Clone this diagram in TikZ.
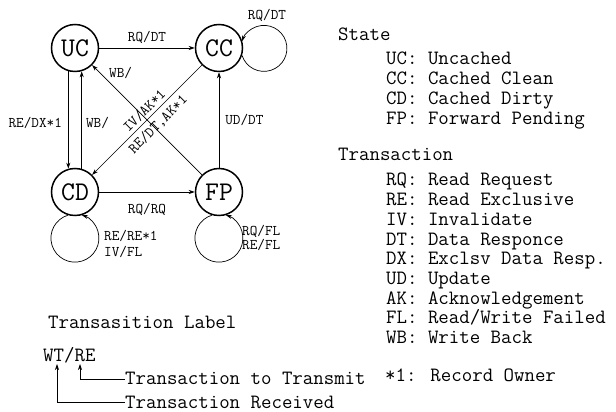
\documentclass[tikz,border=0pt]{standalone}
\usepackage{fontspec}
\usetikzlibrary{arrows.meta}

\tikzset{
  state/.style={draw, circle, line width=1.5pt, minimum size=47pt, inner sep=0pt,
    font=\ttfamily\fontsize{27}{27}\selectfont},
  trans/.style={line width=0.7pt, ->},
  lbl/.style={font=\ttfamily\fontsize{14.8}{14.8}\selectfont, inner sep=1pt},
  legend/.style={font=\ttfamily\fontsize{20.3}{20.3}\selectfont, inner sep=0pt, anchor=base west},
}

\begin{document}
\begin{tikzpicture}[x=1pt, y=1pt, >={Stealth[length=6pt,width=4pt]}]
\useasboundingbox (0,0) rectangle (616,412);

% states
\node[state] (UC) at ( 75,364) {UC};
\node[state] (CC) at (219,364) {CC};
\node[state] (CD) at ( 75,220) {CD};
\node[state] (FP) at (219,220) {FP};

% transitions
\draw[trans] (UC) -- node[lbl, above=3pt] (lUCCC) {RQ/DT} (CC);
\draw[trans] (UC.-106) -- node[lbl, left=5pt, pos=0.53] (lUCCD) {RE/DX*1} (CD.106);
\draw[trans] (CD.74) -- node[lbl, right=3pt, pos=0.47] (lCDUC) {WB/} (UC.-74);
\draw[trans] (FP) -- node[lbl, pos=0.74, above=14pt] (lFPUC) {WB/} (UC);
\draw[trans, <-] (CD) -- node[lbl, sloped, pos=0.53, above=1.5pt] (lCCa) {IV/AK*1}
                         node[lbl, sloped, pos=0.53, below=3.5pt] (lCCb) {RE/DT,AK*1} (CC);
\draw[trans] (FP) -- node[lbl, right=5pt] (lFPCC) {UD/DT} (CC);
\draw[trans] (CD) -- node[lbl, below=10pt] (lCDFP) {RQ/RQ} (FP);

% self loops
\draw[trans] (CC.-18) arc[start angle=198, end angle=522, radius=23];
\node[lbl] (lCC) at (267,397) {RQ/DT};
\draw[trans] (CD.-107) arc[start angle=107, end angle=433, radius=24];
\node[lbl, anchor=west] (lCDa) at (103,176) {RE/RE*1};
\node[lbl, anchor=west] (lCDb) at (103,160) {IV/FL};
\draw[trans] (FP.-107) arc[start angle=107, end angle=433, radius=24];
\node[lbl, anchor=west] (lFPa) at (241,181) {RQ/FL};
\node[lbl, anchor=west] (lFPb) at (241,167) {RE/FL};

% legend
\node[legend] (hState) at (338,371) {State};
\foreach \txt [count=\i] in {UC: Uncached, CC: Cached Clean, CD: Cached Dirty,
                             FP: Forward Pending}
  \node[legend] (st\i) at (386,{366.7-19.7*\i}) {\txt};

\node[legend] (hTrans) at (338,251) {Transaction};
\foreach \txt [count=\i] in {RQ: Read Request, RE: Read Exclusive, IV: Invalidate,
                             DT: Data Responce, DX: Exclsv Data Resp., UD: Update,
                             AK: Acknowledgement, FL: Read/Write Failed, WB: Write Back}
  \node[legend] (tr\i) at (386,{245.7-19.7*\i}) {\txt};
\node[legend] (own) at (385,30) {*1: Record Owner};

% transition label
\node[legend] (tlHead) at (48,83) {Transasition Label};
\node[legend] (tlEx) at (43,50) {WT/RE};
\coordinate (wtPt) at (57,48);
\coordinate (rePt) at (80,48);
\node[legend, inner sep=0.5pt] (tlTx) at (124.5,27) {Transaction to Transmit};
\node[legend, inner sep=0.5pt] (tlRx) at (124.5,3.5) {Transaction Received};
\draw[trans] (tlTx.west) -| (rePt);
\draw[trans] (tlRx.west) -| (wtPt);

\end{tikzpicture}
\end{document}
